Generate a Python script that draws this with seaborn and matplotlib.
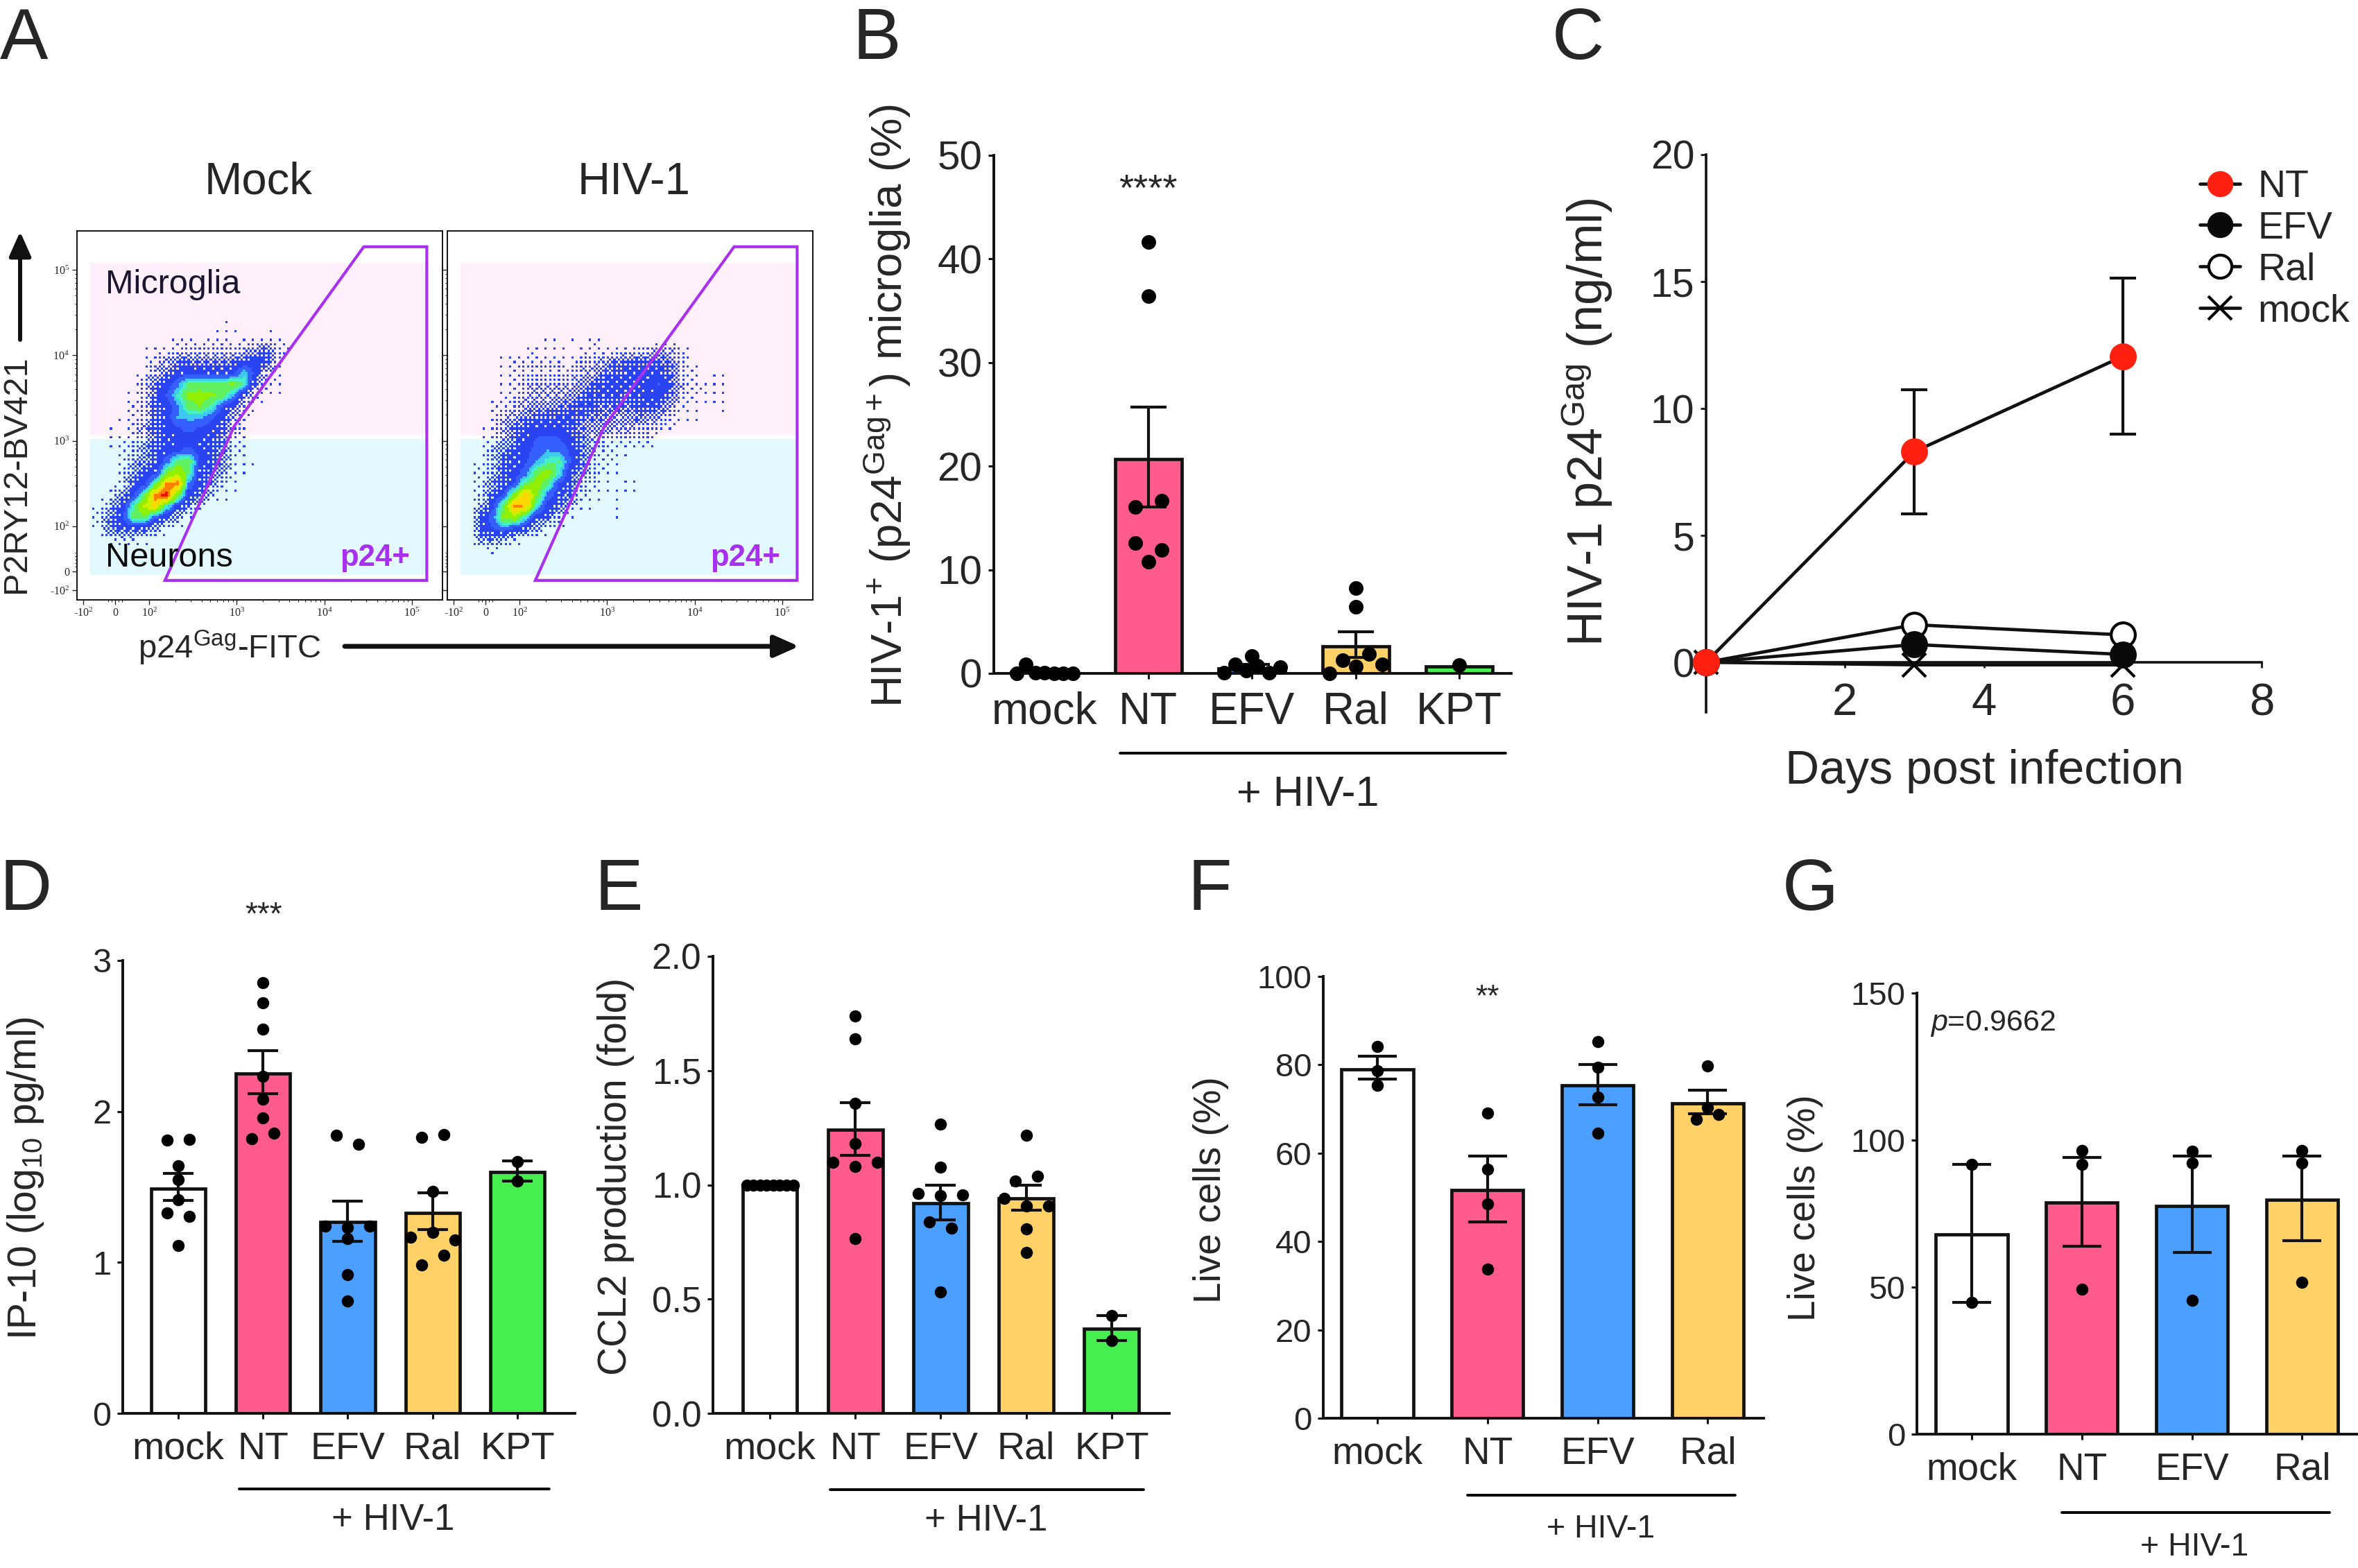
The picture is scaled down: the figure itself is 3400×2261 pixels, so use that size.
import numpy as np
import pandas as pd
import matplotlib
matplotlib.use("Agg")
import matplotlib.pyplot as plt
from matplotlib.colors import ListedColormap
from matplotlib.lines import Line2D
from matplotlib.patches import FancyArrowPatch, Polygon, Rectangle
import seaborn as sns

# Panel A: density, in 16 px cells (0 = empty, 1 = solid blue, 5 = red)
mock_density = [
    [0]*20,
    [0,0,0,0,0,0,0,0,0,0,0,0,.1,.1,0,0,0,0,0,0],
    [0,0,0,0,0,0,0,.05,.1,.15,0,.1,.1,0,.1,.1,.2,.2,0,0],
    [0,0,0,0,0,.1,.1,.2,.2,.3,.3,.3,.3,.3,.4,.8,1,.4,.05,0],
    [0,0,0,0,0,.05,.2,.5,1,1,.8,.9,.8,.9,1.1,1.4,1.2,.3,0,0],
    [0,0,0,0,0,.15,.5,.9,1.1,1.4,1.3,1.2,1.2,1.3,2.1,1.3,.3,.1,0,.05],
    [0,0,0,0,0,.3,.9,1.1,1.8,2.5,2.6,2.6,2.6,3,2.4,.7,.2,.1,0,0],
    [0,0,0,.05,.1,.3,1,1.5,2.3,3,3.1,3,2.8,2,.9,.3,.1,.05,0,0],
    [0,0,0,0,.15,.3,1,1.1,1.8,2.7,2.9,2.4,1.5,1,.3,.1,0,0,0,0],
    [0,0,0,.1,.2,.3,1,1.2,1.9,2,2,1.6,1.1,.6,.2,0,0,0,0,0],
    [0,0,.05,0,.2,.5,1,1.2,1.4,1.6,1.4,1.2,1,.4,.1,0,0,0,0,0],
    [0,0,.05,.1,.2,.4,.9,1.1,1.2,1.2,1.2,1.1,.9,.3,.05,0,.05,0,0,0],
    [0,0,.05,.1,.3,.6,1,1.2,1.4,1.6,1.3,1,.9,.3,.05,0,0,0,0,0],
    [0,0,0,.1,.5,.8,1,1.7,2.7,2.8,1.4,1,.8,.2,.05,.05,0,0,0,0],
    [0,0,0,.1,.7,1,1.3,2.8,3.4,2.6,1.1,1,.6,.1,.05,0,0,0,0,0],
    [0,0,0,.2,1,1.3,2.6,4.5,4.8,1.8,1.1,.8,.2,.05,0,0,0,.05,0,0],
    [0,0,.1,.6,1.3,2.6,4.8,5.2,3,1.2,.9,.3,.1,.05,0,0,0,0,0,0],
    [0,.1,.5,1.1,2.4,3.6,4.2,2.4,1.2,.8,.2,0,0,0,0,0,0,0,0,0],
    [0,.2,1,1.3,2.6,2.8,1.6,1,.4,.1,0,0,0,0,0,0,0,0,0,0],
    [0,.1,.9,1.1,1.1,1,.5,.15,0,0,0,0,0,0,0,0,0,0,0,0],
    [0,0,.1,.2,.2,.1,0,0,0,0,0,0,0,0,0,0,0,0,0,0],
    [0]*20,
    [0]*20,
]
hiv_density = [
    [0]*28,
    [0]*28,
    [0,0,0,0,0,0,0,.1,0,.05,0,.1,0,0,0,0,0,0,0,0,0,0,0,0,0,0,0,0],
    [0,0,0,0,0,.12,.1,.1,.1,0,.15,.2,.15,.15,.2,.3,.3,.5,.5,.3,0,0,0,0,0,0,0,0],
    [0,0,0,.1,.2,.2,.2,.2,.2,.1,.3,.4,.5,.8,1,1,1,.9,.8,.3,.1,0,0,0,0,0,0,0],
    [0,0,0,.1,.2,.3,.25,.3,.3,.3,.4,.6,.9,1,1.1,1.1,1.1,1.2,1,.3,.2,0,.05,.1,0,0,0,0],
    [0,0,0,.05,.15,.3,.4,.4,.4,.4,.6,1,1.1,1.2,1.2,1.1,1.2,1.5,1.1,.4,.2,.15,.1,.1,0,0,0,0],
    [0,0,0,.1,.15,.5,.5,.5,.5,.6,.9,1.1,1.1,1.1,1,1.1,1.2,1.2,1,.3,.15,.1,.1,.1,0,0,0,0],
    [0,0,.1,.2,.3,.5,.7,.7,.8,1,1.1,1,.9,.9,.8,1,1,1,.6,.15,.1,0,.05,.1,0,0,0,0],
    [0,0,.1,.4,.6,.8,1,1,1.1,1.1,1,.8,.8,.6,.6,.8,.7,.6,.3,.1,.1,0,0,0,0,0,0,0],
    [0,0,.2,.5,.9,1.1,1.2,1.2,1.2,1,.8,.6,.6,.6,.5,.4,.3,.2,.1,0,0,0,0,0,0,0,0,0],
    [0,0,.2,.5,1,1.2,1.5,1.6,1.5,1.2,.9,.5,.3,.2,.2,.2,.2,0,0,0,0,0,0,0,0,0,0,0],
    [0,0,.3,.8,1.1,1.3,1.6,1.9,1.8,1.4,.9,.4,.2,.15,.1,0,0,0,.05,0,0,0,0,0,0,0,0,0],
    [0,.1,.4,1,1.1,1.4,1.9,2.4,2.5,1.5,.9,.3,.2,.1,0,.05,0,0,0,0,0,0,0,0,0,0,0,0],
    [0,.2,.5,1,1.2,1.7,2.8,3.2,2.3,1.1,.7,.3,.1,.1,0,0,0,.05,0,0,0,0,0,0,0,0,0,0],
    [0,.2,.7,1,1.5,2.7,3.2,2.6,1.4,1,.4,.2,.15,0,.1,.1,0,0,0,0,0,0,0,0,0,0,0,0],
    [0,.2,1,1.5,3,4.5,3,1.7,1.1,.8,.2,.15,0,.1,0,0,0,0,0,0,0,0,0,0,0,0,0,0],
    [0,.5,1.3,2.7,4.8,4.4,2.3,1.2,1,.4,.1,.1,0,.08,.05,0,0,0,0,0,0,0,0,0,0,0,0,0],
    [0,1,1.7,3,3.3,2.2,1.1,.8,.3,.1,0,.05,0,.05,0,0,0,0,0,0,0,0,0,0,0,0,0,0],
    [0,1.1,1.4,1.8,1.4,1.1,.5,.1,0,0,0,0,0,0,0,0,0,0,0,0,0,0,0,0,0,0,0,0],
    [0,.7,.8,.4,.2,0,0,0,0,0,0,0,0,0,0,0,0,0,0,0,0,0,0,0,0,0,0,0],
    [0,0,.1,0,0,0,0,0,0,0,0,0,0,0,0,0,0,0,0,0,0,0,0,0,0,0,0,0],
    [0]*28,
]
gate_x = [4.45, 5.17, 5.17, 2.18, 2.905, 2.97]
gate_y = [5.27, 5.27, 1.366, 1.366, 3.024, 3.17]

# Panel B
b_labels = ["mock", "NT", "EFV", "Ral", "KPT"]
b_means = [0.15, 20.7, 0.5, 2.6, 0.7]
b_low = [np.nan, 16.05, 0.2, 1.57, np.nan]
b_high = [np.nan, 25.7, 0.85, 4.0, np.nan]
b_dots = [
    [0, 0.9, 0.05, 0.05, 0, 0, 0],
    [41.6, 36.4, 16.05, 16.7, 12.6, 11.9, 10.8],
    [0.05, 0.9, 0.3, 0.75, 0.05, 0.6, 1.65],
    [0, 0.7, 0.9, 1.3, 1.9, 6.4, 8.2],
    [0.8],
]

# Panel C
c_days = [0, 3, 6]
c_nt = [0, 8.3, 12.05]
c_nt_low = [0, 5.85, 9.0]
c_nt_high = [0, 10.75, 15.15]
c_efv = [0, 0.7, 0.31]
c_ral = [0, 1.48, 1.08]
c_mock = [0, -0.1, -0.1]

# Panel D
d_labels = ["mock", "NT", "EFV", "Ral", "KPT"]
d_means = [1.488, 2.253, 1.269, 1.33, 1.597]
d_low = [1.41, 2.118, 1.14, 1.219, 1.541]
d_high = [1.588, 2.405, 1.406, 1.462, 1.673]
d_dots = [
    [1.81, 1.814, 1.638, 1.547, 1.415, 1.33, 1.307, 1.113],
    [2.851, 2.722, 2.543, 2.233, 2.08, 1.957, 1.817, 1.855],
    [1.84, 1.784, 1.242, 1.23, 1.242, 1.16, 0.92, 0.744],
    [1.828, 1.849, 1.468, 1.166, 1.198, 1.149, 0.984, 1.049],
    [1.667, 1.541],
]

# Panel E
e_labels = ["mock", "NT", "EFV", "Ral", "KPT"]
e_means = [1.0, 1.24, 0.92, 0.94, 0.37]
e_low = [np.nan, 1.13, 0.847, 0.888, 0.319]
e_high = [np.nan, 1.36, 1.0, 0.998, 0.427]
e_dots = [
    [1.0, 1.0, 1.0, 1.0, 1.0, 1.0, 1.0, 1.0],
    [1.739, 1.638, 1.358, 1.182, 1.10, 1.079, 1.10, 0.766],
    [1.265, 1.077, 0.961, 0.952, 0.955, 0.838, 0.811, 0.532],
    [1.218, 1.017, 1.039, 0.94, 0.907, 0.907, 0.807, 0.704],
    [0.427, 0.319],
]

# Panel F
f_labels = ["mock", "NT", "EFV", "Ral"]
f_means = [79, 51.6, 75.3, 71.3]
f_low = [76.7, 44.4, 70.9, 68.9]
f_high = [82, 59.4, 80, 74.3]
f_dots = [
    [84.1, 78.7, 75.3],
    [69.1, 56.3, 48.5, 33.7],
    [85.2, 79.5, 72.7, 64.5],
    [79.7, 70.3, 67.6, 68.7],
]

# Panel G
g_labels = ["mock", "NT", "EFV", "Ral"]
g_means = [67.9, 78.8, 77.6, 79.7]
g_low = [44.9, 64, 61.8, 65.7]
g_high = [91.7, 94.2, 94.5, 94.5]
g_dots = [
    [91.7, 44.9],
    [96.5, 91.7, 49.2],
    [96.3, 92.3, 45.5],
    [96.5, 92.1, 51.6],
]

BAR_COLORS = ["#FFFFFF", "#FF5C8D", "#4B9FFF", "#FFD166", "#47EE50"]
DENSITY_COLORS = ["#2B44F2", "#3560FF", "#3FC8F0", "#45EFC8", "#60F060",
                  "#90F000", "#D0F000", "#FFD800", "#FF8000", "#F01010"]
DENSITY_BOUNDS = [0, 1.45, 1.9, 2.2, 2.5, 2.9, 3.5, 4, 4.5, 5]
GATE = "#A830F0"
W, H = 3400, 2261

sns.set_theme(style="ticks")
plt.rcParams["font.family"] = ["Liberation Sans", "DejaVu Sans"]
plt.rcParams["mathtext.fontset"] = "custom"
plt.rcParams["mathtext.rm"] = "Liberation Sans"
plt.rcParams["mathtext.it"] = "Liberation Sans:italic"
plt.rcParams["mathtext.bf"] = "Liberation Sans:bold"
plt.rcParams["mathtext.default"] = "regular"

fig = plt.figure(figsize=(W / 100, H / 100), dpi=100)


def px_axes(x0, x1, top, bottom, **kw):
    return fig.add_axes([x0 / W, 1 - bottom / H, (x1 - x0) / W, (bottom - top) / H], **kw)


def label(x, y, s, size, **kw):
    kw.setdefault("ha", "center")
    kw.setdefault("va", "center")
    fig.text(x / W, 1 - y / H, s, fontsize=size, **kw)


def hline(x0, x1, y, lw=2.8):
    fig.add_artist(Line2D([x0 / W, x1 / W], [1 - y / H, 1 - y / H], color="black", lw=lw))


def arrow(x0, y0, x1, y1, lw=5):
    fig.add_artist(FancyArrowPatch((x0 / W, 1 - y0 / H), (x1 / W, 1 - y1 / H),
                                   transform=fig.transFigure,
                                   arrowstyle="-|>,head_length=0.36,head_width=0.16",
                                   mutation_scale=60, lw=lw, color="#111111",
                                   shrinkA=0, shrinkB=0))


def upsample(grid, k=5):
    z = np.array(grid, dtype=float)
    rows = np.arange(z.shape[0])
    cols = np.arange(z.shape[1])
    new_rows = np.arange(z.shape[0] * k) / k - 0.5 + 0.5 / k
    new_cols = np.arange(z.shape[1] * k) / k - 0.5 + 0.5 / k
    z = np.array([np.interp(new_cols, cols, r) for r in z])
    z = np.array([np.interp(new_rows, rows, c) for c in z.T]).T
    return z


def density(grid, x0, y0):
    """Pseudocolour cloud as a heatmap, thin areas ordered-dithered so they look speckled."""
    z = upsample(grid)
    bayer = np.array([[0, 8, 2, 10], [12, 4, 14, 6], [3, 11, 1, 9], [15, 7, 13, 5]]) / 16
    tile = np.tile(bayer, (z.shape[0] // 4 + 1, z.shape[1] // 4 + 1))[:z.shape[0], :z.shape[1]]
    show = z > 0.04 + tile * 1.3
    levels = np.digitize(z, DENSITY_BOUNDS) - 1
    ax = px_axes(x0, x0 + 16 * z.shape[1] / 5, y0, y0 + 16 * z.shape[0] / 5, zorder=2)
    sns.heatmap(levels, mask=~show, cmap=ListedColormap(DENSITY_COLORS), vmin=-0.5, vmax=9.5,
                cbar=False, xticklabels=False, yticklabels=False, ax=ax)
    ax.axis("off")


def facs_panel(x0, grid, dens_x, show_names):
    x1 = x0 + 527
    ax = px_axes(x0, x1, 333, 865, zorder=1)
    ax.set_xlim(1.175, 5.349)
    ax.set_ylim(1.138, 5.455)
    ax.add_patch(Rectangle((1.325, 3.073), 3.842, 2.007, color="#FFF0FB", lw=0))
    ax.add_patch(Rectangle((1.325, 1.431), 3.842, 1.593, color="#E2F9FF", lw=0))
    for s in ax.spines.values():
        s.set_visible(True)
        s.set_linewidth(1.3)
        s.set_color("black")
    minor = [d + np.log10(k) for d in (2, 3, 4) for k in range(2, 10)] + [1.61, 1.57, 1.65, 1.53, 1.69]
    ax.set_xticks([1.25, 1.61, 2, 3, 4, 5])
    ax.set_xticks(minor, minor=True)
    ax.set_yticks([1.25, 1.47, 2, 3, 4, 5])
    ax.set_yticks(minor, minor=True)
    xt = ["-10$^{2}$", "0", "10$^{2}$", "10$^{3}$", "10$^{4}$", "10$^{5}$"]
    ax.set_xticklabels(xt, fontsize=11.5, family="Liberation Serif")
    if show_names:
        ax.set_yticklabels(xt, fontsize=11.5, family="Liberation Serif")
    else:
        ax.set_yticklabels([])
    ax.tick_params(which="major", length=5, width=1, pad=3)
    ax.tick_params(which="minor", length=2.5, width=0.8)

    density(grid, dens_x, 450)

    top = px_axes(x0, x1, 333, 865, zorder=3)
    top.set_xlim(ax.get_xlim())
    top.set_ylim(ax.get_ylim())
    top.axis("off")
    top.add_patch(Polygon(list(zip(gate_x, gate_y)), closed=True, fill=False, edgecolor=GATE, lw=3))
    top.text(4.98, 1.63, "p24+", color=GATE, fontsize=31.5, fontweight="bold", ha="right", va="center")
    if show_names:
        top.text(1.5, 4.83, "Microglia", color="#1A1530", fontsize=35, va="center")
        top.text(1.5, 1.63, "Neurons", color="#0A0A0A", fontsize=35, va="center")


def spread(values, centre, step, max_width, thresh):
    """x for each dot: values close in y sit side by side, centred on the bar."""
    values = np.asarray(values, dtype=float)
    order = np.argsort(values, kind="stable")
    xs = np.full(len(values), float(centre))
    group = []

    def place(idx):
        idx = sorted(idx)
        n = len(idx)
        if n > 1:
            gap = min(step, max_width / (n - 1))
            for j, i in enumerate(idx):
                xs[i] = centre + (j - (n - 1) / 2) * gap

    for i in order:
        if group and values[i] - values[group[0]] > thresh:
            place(group)
            group = []
        group.append(i)
    place(group)
    return xs


def bar_panel(rect, xlim, ymax, yticks, labels, means, low, high, dots, ytick_size, xtick_size,
              dot_px=17.5, step_px=32, cap=16, bar_width=0.64, thresh_px=14.5, yfmt=None):
    x0, x1, top, bottom = rect
    ax = px_axes(x0, x1, top, bottom)
    df = pd.DataFrame({"group": labels, "mean": means})
    sns.barplot(data=df, x="group", y="mean", hue="group", palette=dict(zip(labels, BAR_COLORS)),
                legend=False, width=bar_width, saturation=1, edgecolor="#111111", linewidth=3.4,
                errorbar=None, ax=ax)
    pos = np.arange(len(labels))
    means = np.array(means, dtype=float)
    ax.errorbar(pos, means, yerr=[means - np.array(low), np.array(high) - means], fmt="none",
                ecolor="#111111", elinewidth=3, capsize=cap, capthick=3, zorder=4)
    unit_x = (x1 - x0) / (xlim[1] - xlim[0])
    unit_y = (bottom - top) / ymax
    for i, vals in enumerate(dots):
        xs = spread(vals, i, step_px / unit_x, bar_width * 0.85, thresh_px / unit_y)
        sns.scatterplot(x=xs, y=vals, color="black", s=(dot_px / 1.389) ** 2, linewidth=0,
                        clip_on=False, zorder=5, legend=False, ax=ax)
    ax.set_xlim(*xlim)
    ax.set_ylim(0, ymax)
    ax.set_yticks(yticks)
    if yfmt:
        ax.set_yticklabels([yfmt % t for t in yticks])
    ax.set_xlabel("")
    ax.set_ylabel("")
    sns.despine(ax=ax)
    ax.patch.set_alpha(0)
    for s in ("left", "bottom"):
        ax.spines[s].set_linewidth(2.8)
        ax.spines[s].set_color("#111111")
    ax.tick_params(axis="y", labelsize=ytick_size, length=6, width=2.2, pad=6, color="#111111")
    ax.tick_params(axis="x", labelsize=xtick_size, length=6, width=2.2, pad=12.5, color="#111111")
    return ax


# Panel A
facs_panel(111, mock_density, 120, True)
facs_panel(645, hiv_density, 670, False)
label(373, 263, "Mock", 47)
label(914, 263, "HIV-1", 47)
label(24, 684, "P2RY12-BV421", 35, rotation=90)
label(331, 934, "p24$^{Gag}$-FITC", 34)
arrow(29, 490, 29, 334, lw=4.3)
arrow(497, 932, 1152, 932)

# Panel B
bar_panel((1433, 2179, 224, 971), (-0.49, 4.5), 50, [0, 10, 20, 30, 40, 50], b_labels, b_means,
          b_low, b_high, b_dots, 42, 46, dot_px=21, step_px=38, cap=19)
label(1280, 585, "HIV-1$^{+}$ (p24$^{Gag+}$) microglia (%)", 45.7, rotation=90)
label(1655, 274, "****", 39)
hline(1615, 2171, 1086)
label(1886, 1147, "+ HIV-1", 44)

# Panel C
ax = px_axes(2460, 3261, 223, 1027)
series = [(c_mock, "x", "black", "black"), (c_ral, "o", "white", "black"),
          (c_efv, "o", "#0A0A0A", "#0A0A0A"), (c_nt, "o", "#FF2010", "#FF2010")]
for vals, mk, face, edge in series:
    sns.lineplot(x=c_days, y=vals, marker=mk, markersize=25, color="#111111", markerfacecolor=face,
                 markeredgecolor=edge, markeredgewidth=3, linewidth=3.4, errorbar=None,
                 clip_on=False, zorder=4, ax=ax)
nt = np.array(c_nt)
ax.errorbar(c_days[1:], nt[1:], yerr=[nt[1:] - np.array(c_nt_low)[1:], np.array(c_nt_high)[1:] - nt[1:]],
            fmt="none", ecolor="#111111", elinewidth=3, capsize=14, capthick=3, zorder=3)
ax.set_xlim(0, 8)
ax.set_ylim(-1.967, 20)
ax.set_xticks([2, 4, 6, 8])
ax.set_yticks([0, 5, 10, 15, 20])
sns.despine(ax=ax)
ax.spines["bottom"].set_position(("data", 0))
for s in ("left", "bottom"):
    ax.spines[s].set_linewidth(2.6)
    ax.spines[s].set_color("#111111")
ax.tick_params(axis="y", labelsize=41, length=6, width=2.2, pad=6)
ax.tick_params(axis="x", labelsize=47, length=6, width=2.2, pad=15)
ax.patch.set_alpha(0)
handles = [Line2D([], [], color="#111111", lw=3.4, marker=mk, markersize=24, markerfacecolor=face,
                  markeredgecolor=edge, markeredgewidth=3)
           for _, mk, face, edge in reversed(series)]
ax.legend(handles, ["NT", "EFV", "Ral", "mock"], loc="upper left", frameon=False, fontsize=40,
          bbox_to_anchor=(3172 / W, 1 - 244 / H), bbox_transform=fig.transFigure, borderpad=0,
          borderaxespad=0, handlelength=1.05, handletextpad=0.45, labelspacing=0.14)
label(2861, 1112, "Days post infection", 49)
label(2288, 609, "HIV-1 p24$^{Gag}$ (ng/ml)", 50.5, rotation=90)

# Panel D
bar_panel((177, 829, 1385, 2038), (-0.654, 4.68), 3, [0, 1, 2, 3], d_labels, d_means, d_low, d_high,
          d_dots, 35, 40)
label(37, 1699, "IP-10 (log$_{10}$ pg/ml)", 41, rotation=90)
label(380, 1321, "***", 33)
hline(345, 792, 2147)
label(567, 2192, "+ HIV-1", 38)

# Panel E
bar_panel((1028, 1686, 1379, 2038), (-0.666, 4.675), 2, [0, 0.5, 1, 1.5, 2], e_labels, e_means,
          e_low, e_high, e_dots, 37, 40, yfmt="%.1f")
label(888, 1696, "CCL2 production (fold)", 41, rotation=90)
hline(1197, 1649, 2148)
label(1422, 2193, "+ HIV-1", 38)

# Panel F
bar_panel((1908, 2543, 1408, 2045), (-0.491, 3.507), 100, [0, 20, 40, 60, 80, 100], f_labels, f_means,
          f_low, f_high, f_dots, 34, 39.5, cap=20, bar_width=0.65)
label(1746, 1716, "Live cells (%)", 39.5, rotation=90)
label(2145, 1439, "**", 32)
hline(2116, 2502, 2156)
label(2308, 2205, "+ HIV-1", 33.5)

# Panel G
bar_panel((2764, 3400, 1432, 2068), (-0.497, 3.507), 150, [0, 50, 100, 150], g_labels, g_means,
          g_low, g_high, g_dots, 34, 39.5, cap=20, bar_width=0.65)
label(2603, 1742, "Live cells (%)", 39.5, rotation=90)
label(2783, 1476, "$\\mathit{p}$=0.9662", 31, ha="left")
hline(2973, 3359, 2181)
label(3164, 2231, "+ HIV-1", 33.5)

# Panel letters
for letter, x, y in [("A", 0, 85), ("B", 1230, 85), ("C", 2238, 85),
                     ("D", 0, 1312), ("E", 857, 1312), ("F", 1713, 1312), ("G", 2570, 1312)]:
    label(x, y, letter, 75, ha="left", va="baseline")

fig.savefig("out.png", dpi=100)
